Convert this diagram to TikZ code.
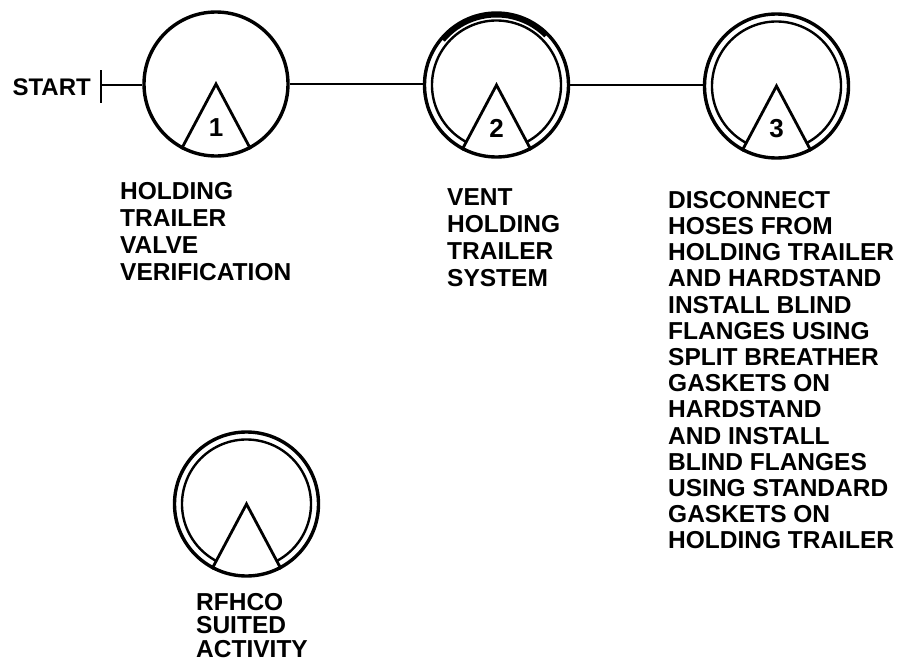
\documentclass[tikz,border=0pt]{standalone}
\usepackage{fontspec}
\setmainfont{Liberation Sans}
\begin{document}
\begin{tikzpicture}[x=1pt,y=1pt,
  circ/.style={circle,draw,line width=3.4pt,inner sep=0pt,minimum size=144pt},
  tri/.style={line width=2.8pt,line join=miter},
  conn/.style={line width=2pt},
  inner/.style={line width=2.4pt},
  lbl/.style={anchor=north west,inner sep=0pt,align=left,font=\fontsize{24.5}{27}\selectfont\bfseries},
  num/.style={inner sep=0pt,font=\fontsize{26}{26}\selectfont\bfseries}]
\useasboundingbox (0,0) rectangle (898,-664);
% circles
\node[circ] (c1) at (216,-84) {};
\node[circ] (c2) at (496.5,-85) {};
\node[circ] (c3) at (776.5,-86) {};
\node[circ] (c4) at (246.5,-504) {};
% inner rings of double circles
\foreach \c in {c2,c3,c4}{
  \draw[inner] ([shift={(-62:64.5)}]\c.center) arc[start angle=-62,end angle=242,radius=64.5];
}
% extra darkness on top of circle 2
\draw[line width=5pt] ([shift={(140:70)}]c2.center) arc[start angle=140,end angle=45,radius=70];
% triangles
\foreach \c in {c1,c2,c3,c4}{
  \draw[tri] (\c.-118) -- (\c.center) -- (\c.-62);
}
% numbers
\node[num] (n1) at ([yshift=-44pt]c1.center) {1};
\node[num] (n2) at ([yshift=-43pt]c2.center) {2};
\node[num] (n3) at ([yshift=-43pt]c3.center) {3};
% start
\node[anchor=east,inner sep=0pt,font=\fontsize{24}{26}\selectfont\bfseries] (start) at (91,-87) {START};
\coordinate (sbt) at (101,-70);
\coordinate (sbb) at (101,-103);
\coordinate (sb) at (101,-85);
\draw[line width=2.6pt] (sbt) -- (sbb);
\draw[conn] (sb) -- (sb -| c1.west);
\draw[conn] (c1.east) -- (c1.east -| c2.west);
\draw[conn] (c2.east) -- (c2.east -| c3.west);
% labels
\node[lbl] (t1) at (120,-182) {HOLDING\\TRAILER\\VALVE\\VERIFICATION};
\node[lbl] (t2) at (447,-188) {VENT\\HOLDING\\TRAILER\\SYSTEM};
\node[lbl,font=\fontsize{24.5}{26.2}\selectfont\bfseries] (t3) at (668,-191) {DISCONNECT\\HOSES FROM\\HOLDING TRAILER\\AND HARDSTAND\\INSTALL BLIND\\FLANGES USING\\SPLIT BREATHER\\GASKETS ON\\HARDSTAND\\AND INSTALL\\BLIND FLANGES\\USING STANDARD\\GASKETS ON\\HOLDING TRAILER};
\node[lbl,font=\fontsize{24.5}{23.5}\selectfont\bfseries] (t4) at (196,-593) {RFHCO\\SUITED\\ACTIVITY};
\end{tikzpicture}
\end{document}
